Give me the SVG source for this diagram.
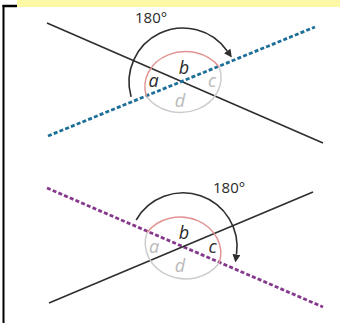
<svg xmlns="http://www.w3.org/2000/svg" width="340" height="323" viewBox="0 0 340 323">
<style>
.solid{stroke:#2e2e2e;stroke-width:1.6;fill:none}
.blue{stroke:#1c6f98;stroke-width:2.8;stroke-dasharray:4 2.2;fill:none}
.purple{stroke:#86398c;stroke-width:2.8;stroke-dasharray:4 2.2;fill:none}
.red{stroke:#e29494;stroke-width:1.5;fill:none}
.grey{stroke:#cdcdcd;stroke-width:1.5;fill:none}
.turn{stroke:#2e2e2e;stroke-width:1.6;fill:none;marker-end:url(#arr)}
.lab{font-family:"Open Sans","Liberation Sans",sans-serif;font-style:italic;font-size:18px;text-anchor:middle}
.dark{fill:#2a2a2a}
.light{fill:#b9b9b9}
.deg{font-family:"Open Sans","Liberation Sans",sans-serif;font-size:15px;fill:#2a2a2a}
</style>
<defs>
<marker id="arr" markerUnits="userSpaceOnUse" viewBox="0 0 8 8" refX="0" refY="4" markerWidth="8" markerHeight="8" orient="auto">
<path d="M0,0 L8,4 L0,8 z" fill="#2e2e2e"/>
</marker>
</defs>
<rect width="340" height="323" fill="#ffffff"/>
<g id="frame">
<rect x="17" y="0" width="323" height="7" fill="#fdf8a6"/>
<line x1="3.5" y1="5" x2="3.5" y2="323" stroke="#000" stroke-width="2"/>
<line x1="2.5" y1="6" x2="17" y2="6" stroke="#000" stroke-width="2.5"/>
</g>
<g id="connectors">
<line class="solid" x1="47" y1="23" x2="323" y2="143"/>
<line class="blue" x1="48" y1="136" x2="315" y2="27"/>
<line class="purple" x1="47" y1="188" x2="323" y2="307"/>
<line class="solid" x1="49" y1="303" x2="313" y2="192"/>
<path class="turn" d="M131.1,96.9 A54,54 0 0 1 227.2,51"/>
<path class="turn" d="M136.2,220 A54,54 0 0 1 236.5,254.5"/>
</g>
<g id="top-angles">
<path class="red" d="M146.75,96.8 A40.5,35 0 0 1 219.25,67.2"/>
<path class="grey" d="M219.25,67.2 A40.5,35 0 0 1 146.75,96.8"/>
<text class="deg" x="135" y="23">180°</text>
<text class="lab dark" x="153.5" y="87">a</text>
<text class="lab dark" x="184" y="74">b</text>
<text class="lab light" x="212" y="87">c</text>
<text class="lab light" x="180" y="107">d</text>
</g>
<g id="bottom-angles">
<path class="red" d="M146.9,232.7 A40.5,36 0 0 1 219.1,263.3"/>
<path class="grey" d="M219.1,263.3 A40.5,36 0 0 1 146.9,232.7"/>
<text class="deg" x="213" y="193">180°</text>
<text class="lab light" x="154" y="253">a</text>
<text class="lab dark" x="184" y="239">b</text>
<text class="lab dark" x="212.5" y="253">c</text>
<text class="lab light" x="180" y="272">d</text>
</g>
</svg>
